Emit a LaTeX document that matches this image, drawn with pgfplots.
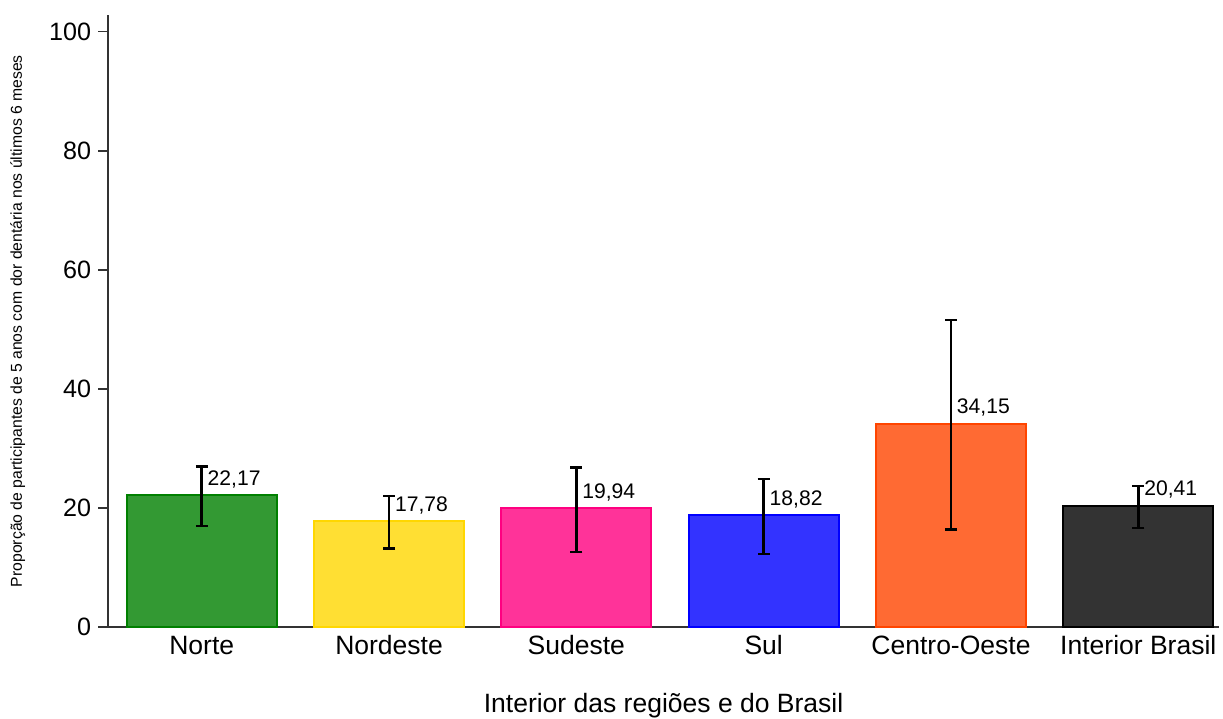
\documentclass[border=0pt]{standalone}
\usepackage{pgfplots}
\pgfplotsset{compat=1.18}
\usepackage{fontspec}
\setmainfont{Liberation Sans}

% borda = cor cheia, preenchimento = 80% da cor sobre branco
\definecolor{cNorte}{RGB}{0,128,0}
\definecolor{cNordeste}{RGB}{255,215,0}
\definecolor{cSudeste}{RGB}{255,0,128}
\definecolor{cSul}{RGB}{0,0,255}
\definecolor{cCO}{RGB}{255,69,0}
\definecolor{cBrasil}{RGB}{0,0,0}

\pgfplotsset{
  barra/.style={
    ybar, bar width=0.8, bar shift=0pt,
    draw=#1, fill=#1!80, line width=1pt,
    nodes near coords, point meta=explicit symbolic,
    nodes near coords style={anchor=base west, inner sep=0pt, xshift=2.5pt, yshift=5pt,
      text=black, font=\fontsize{10.6}{12}\selectfont},
    error bars/.cd, y dir=both, y explicit,
    error bar style={black, line width=1.25pt},
    error mark options={black, line width=1.25pt, mark size=3pt, rotate=90}},
}

\begin{document}
\begin{tikzpicture}
\begin{axis}[
  scale only axis,
  width=557.5pt, height=307.25pt,
  xmin=-0.5, xmax=5.431,
  ymin=0, ymax=102.8,
  clip=false,
  axis x line=bottom, axis y line=left,
  axis line style={black!80, line width=0.8pt, -},
  ytick={0,20,...,100},
  xtick={0,...,5},
  xticklabels={Norte,Nordeste,Sudeste,Sul,Centro-Oeste,Interior Brasil},
  tick align=outside,
  major tick length=5pt,
  ytick style={black!80, line width=0.8pt},
  xtick style={draw=none},
  /pgf/number format/assume math mode=true,
  yticklabel style={font=\fontsize{12.6}{15}\selectfont},
  xticklabel style={font=\fontsize{13.3}{15}\selectfont, anchor=base, yshift=-8.5pt},
  xlabel={Interior das regiões e do Brasil},
  xlabel style={font=\fontsize{13.3}{15}\selectfont, at={(axis description cs:0.5,0)},
    anchor=base, inner sep=0pt, yshift=-43pt},
  ylabel={Proporção de participantes de 5 anos com dor dentária nos últimos 6 meses},
  ylabel style={font=\fontsize{7.9}{9}\selectfont, at={(axis description cs:-0.0777,0.5)},
    anchor=base, inner sep=5.1pt},
]
\addplot[barra=cNorte] table[row sep=\\, y error plus=ep, y error minus=em, meta=lab]{
x y ep em lab\\ 0 22.17 4.83 5.17 22,17\\};
\addplot[barra=cNordeste] table[row sep=\\, y error plus=ep, y error minus=em, meta=lab]{
x y ep em lab\\ 1 17.78 4.22 4.58 17,78\\};
\addplot[barra=cSudeste] table[row sep=\\, y error plus=ep, y error minus=em, meta=lab]{
x y ep em lab\\ 2 19.94 6.86 7.34 19,94\\};
\addplot[barra=cSul] table[row sep=\\, y error plus=ep, y error minus=em, meta=lab]{
x y ep em lab\\ 3 18.82 6.08 6.52 18,82\\};
\addplot[barra=cCO] table[row sep=\\, y error plus=ep, y error minus=em, meta=lab]{
x y ep em lab\\ 4 34.15 17.45 17.75 34,15\\};
\addplot[barra=cBrasil] table[row sep=\\, y error plus=ep, y error minus=em, meta=lab]{
x y ep em lab\\ 5 20.41 3.29 3.71 20,41\\};
\end{axis}
\path ([yshift=7.5pt]current axis.north);
\end{tikzpicture}
\end{document}
